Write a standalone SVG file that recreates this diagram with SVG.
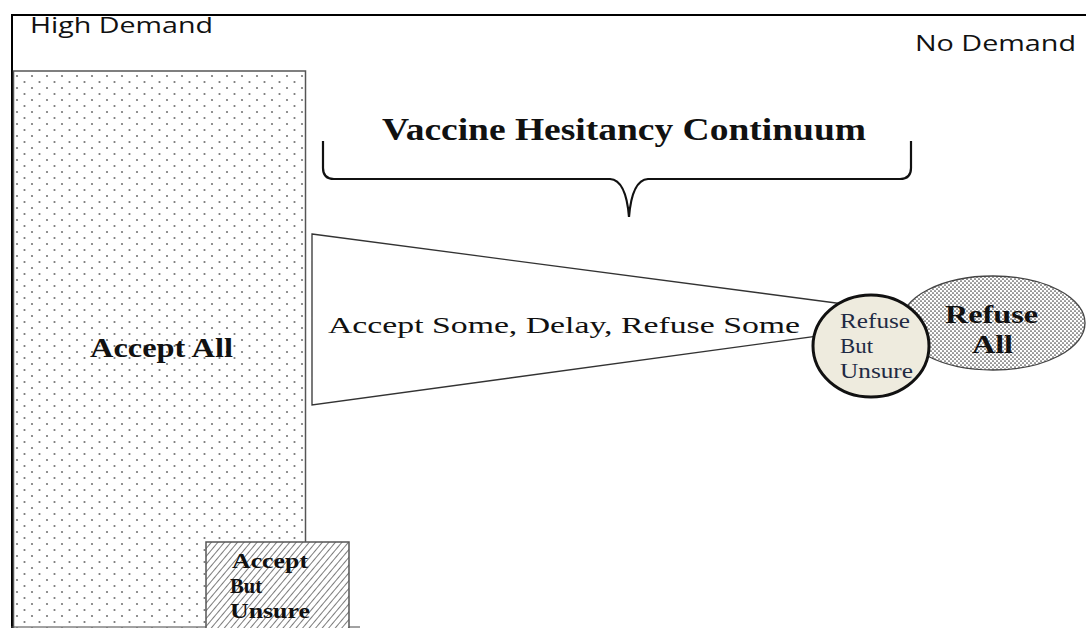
<svg xmlns="http://www.w3.org/2000/svg" width="1086" height="628" viewBox="0 0 1086 628">
<defs>
<pattern id="dots" width="15" height="12" patternUnits="userSpaceOnUse" x="14" y="73">
<circle cx="3" cy="3" r="1.1" fill="#777"/>
<circle cx="10.5" cy="9" r="1.1" fill="#777"/>
</pattern>
<pattern id="dense" width="4" height="4" patternUnits="userSpaceOnUse">
<rect width="4" height="4" fill="#fff"/>
<circle cx="1" cy="1" r="0.85" fill="#444"/>
<circle cx="3" cy="3" r="0.85" fill="#444"/>
</pattern>
<pattern id="hatch" width="5" height="5" patternUnits="userSpaceOnUse" patternTransform="rotate(40)">
<rect width="5" height="5" fill="#fff"/>
<line x1="0" y1="0" x2="0" y2="5" stroke="#444" stroke-width="1.4"/>
</pattern>
<style>
.sans{font-family:"Open Sans","Liberation Sans",sans-serif;fill:#111}
.serif{font-family:"Liberation Serif","Times New Roman",serif;fill:#111}
.b{font-weight:bold}
</style>
</defs>
<g id="frame">
<line x1="11" y1="15" x2="1086" y2="15" stroke="#000" stroke-width="2"/>
<line x1="12" y1="14" x2="12" y2="628" stroke="#000" stroke-width="2"/>
<line x1="11" y1="627" x2="360" y2="627" stroke="#444" stroke-width="1"/>
<text class="sans" x="30" y="33" font-size="22" textLength="183" lengthAdjust="spacingAndGlyphs">High Demand</text>
<text class="sans" x="915" y="51" font-size="22" textLength="161" lengthAdjust="spacingAndGlyphs">No Demand</text>
</g>
<g id="accept-all">
<rect x="13.5" y="71" width="292" height="560" fill="url(#dots)" stroke="#555" stroke-width="1.5"/>
<text class="serif b" x="90" y="357" font-size="27" textLength="143" lengthAdjust="spacingAndGlyphs">Accept All</text>
</g>
<g id="accept-but-unsure">
<rect x="206" y="542" width="143" height="90" fill="url(#hatch)" stroke="#555" stroke-width="1.5"/>
<text class="serif b" font-size="22">
<tspan x="232" y="568" textLength="76" lengthAdjust="spacingAndGlyphs">Accept</tspan>
<tspan x="230" y="593" textLength="32" lengthAdjust="spacingAndGlyphs">But</tspan>
<tspan x="230" y="618" textLength="80" lengthAdjust="spacingAndGlyphs">Unsure</tspan>
</text>
</g>
<g id="connectors">
<path d="M323 141 L323 168 Q323 179 334 179 L610 179 Q626 180 629 217 Q632 180 648 179 L900 179 Q911 179 911 168 L911 141" fill="none" stroke="#111" stroke-width="2.2"/>
</g>
<g id="title">
<text class="serif b" x="382" y="140" font-size="31" textLength="484" lengthAdjust="spacingAndGlyphs">Vaccine Hesitancy Continuum</text>
</g>
<g id="continuum">
<polygon points="312,234 950,318 312,405" fill="#fff" stroke="#333" stroke-width="1.3"/>
<text class="serif" x="328" y="333" font-size="24" textLength="472" lengthAdjust="spacingAndGlyphs">Accept Some, Delay, Refuse Some</text>
</g>
<g id="refuse-all">
<ellipse cx="993" cy="323" rx="92" ry="47" fill="url(#dense)" stroke="#444" stroke-width="1.3"/>
<text class="serif b" font-size="25">
<tspan x="945" y="323" textLength="93" lengthAdjust="spacingAndGlyphs">Refuse</tspan>
<tspan x="972" y="353" textLength="41" lengthAdjust="spacingAndGlyphs">All</tspan>
</text>
</g>
<g id="refuse-but-unsure">
<ellipse cx="871" cy="346" rx="58" ry="51" fill="#eeebde" stroke="#111" stroke-width="3"/>
<text class="serif" font-size="20" style="fill:#1f2a44">
<tspan x="840" y="328" textLength="70" lengthAdjust="spacingAndGlyphs">Refuse</tspan>
<tspan x="840" y="353" textLength="33" lengthAdjust="spacingAndGlyphs">But</tspan>
<tspan x="840" y="378" textLength="73" lengthAdjust="spacingAndGlyphs">Unsure</tspan>
</text>
</g>
</svg>
